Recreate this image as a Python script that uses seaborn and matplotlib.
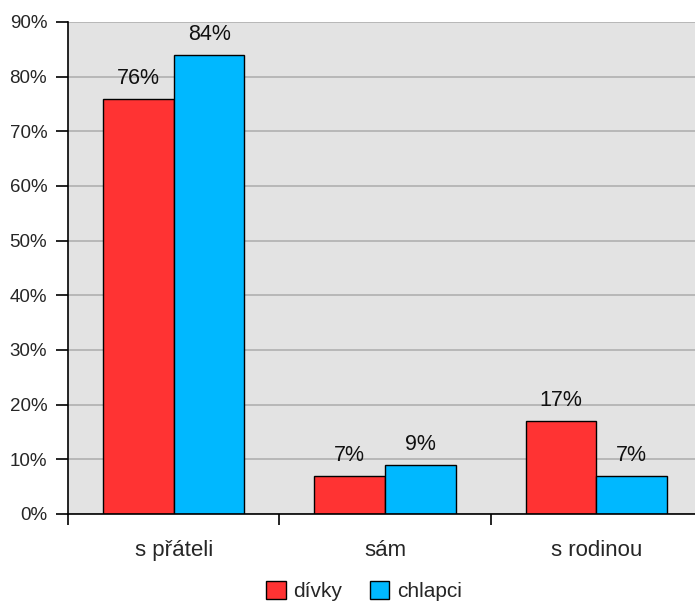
import matplotlib
matplotlib.use("Agg")
import matplotlib.pyplot as plt
import matplotlib.ticker as mticker
import seaborn as sns
import pandas as pd

categories = ["s přáteli", "sám", "s rodinou"]
divky = [76, 7, 17]
chlapci = [84, 9, 7]
series_names = ["dívky", "chlapci"]
colors = ["#ff3333", "#00b8ff"]

df = pd.DataFrame({
    "kategorie": categories * 2,
    "skupina": [series_names[0]] * 3 + [series_names[1]] * 3,
    "podil": divky + chlapci,
})

sns.set_theme(style="white")
plt.rcParams["font.family"] = ["Liberation Sans", "DejaVu Sans"]

fig = plt.figure(figsize=(6.95, 6.02), dpi=100)
ax = fig.add_axes([68 / 695, 88 / 602, 634 / 695, 492 / 602])
ax.set_facecolor("#e3e3e3")

sns.barplot(data=df, x="kategorie", y="podil", hue="skupina",
            palette=colors, width=0.67, edgecolor="black", linewidth=1.0,
            saturation=1, ax=ax, legend=True)

for cont in ax.containers:
    ax.bar_label(cont, fmt="%d%%", padding=7, fontsize=15.5, color="#111111")

ax.set_ylim(0, 90)
ax.set_xlim(-0.5, 2.5)
ax.yaxis.set_major_locator(mticker.MultipleLocator(10))
ax.yaxis.set_major_formatter(mticker.FuncFormatter(lambda v, p: f"{v:.0f}%"))
ax.grid(axis="y", color="#b4b4b4", linewidth=1.3)
ax.set_axisbelow(True)

# category labels on minor ticks, tick marks on category boundaries
ax.set_xticks([-0.5, 0.5, 1.5, 2.5])
ax.set_xticklabels([])
ax.set_xticks([0, 1, 2], minor=True)
ax.set_xticklabels(categories, minor=True, fontsize=16)
ax.tick_params(axis="x", which="minor", length=0, pad=19)
ax.tick_params(axis="x", which="major", length=8, width=1.2, color="black",
               direction="out", bottom=True)
ax.tick_params(axis="y", length=9, width=1.2, color="black", direction="out",
               left=True, labelsize=13.5, pad=6)

ax.set_xlabel("")
ax.set_ylabel("")
for side in ["top", "right"]:
    ax.spines[side].set_visible(False)
for side in ["left", "bottom"]:
    ax.spines[side].set_color("black")
    ax.spines[side].set_linewidth(1.2)

handles, labels = ax.get_legend_handles_labels()
ax.legend(handles, labels, loc="center", bbox_to_anchor=(364 / 695, 11 / 602),
          bbox_transform=fig.transFigure, ncol=2, frameon=False,
          handlelength=0.95, handleheight=0.95, handletextpad=0.35,
          columnspacing=1.3, fontsize=15)

fig.savefig("out.png", dpi=100)
